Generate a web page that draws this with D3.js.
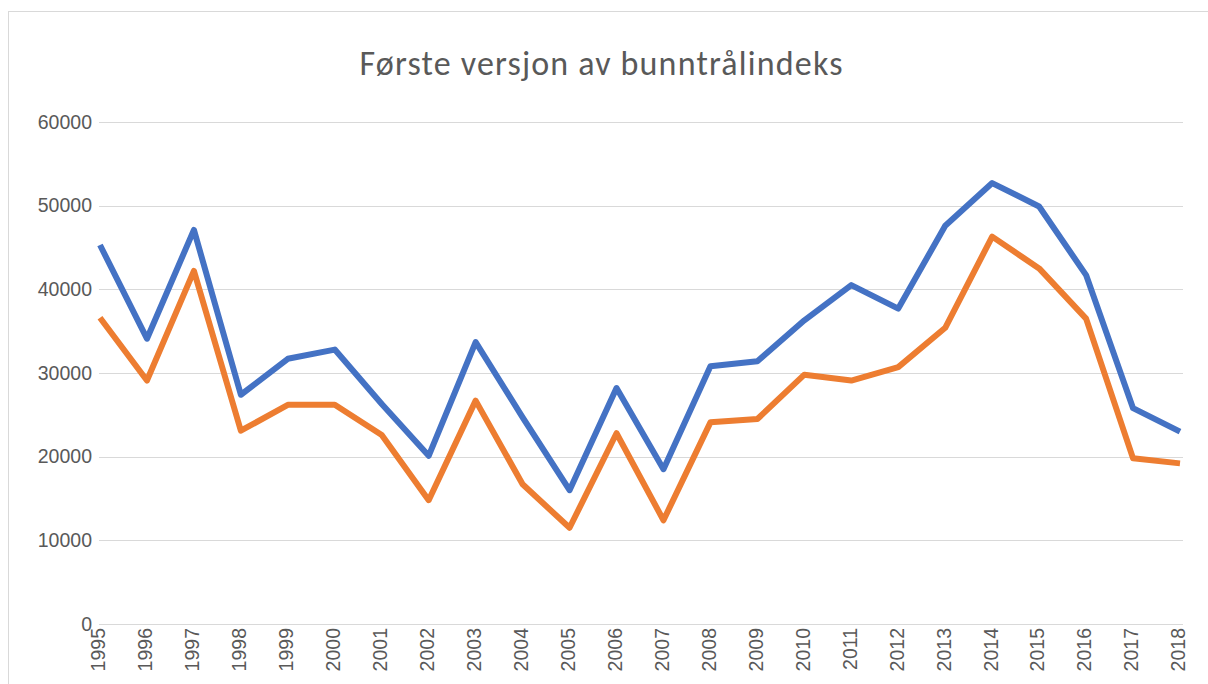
<!DOCTYPE html>
<html>
<head>
<meta charset="utf-8">
<script src="https://cdn.jsdelivr.net/npm/d3@7"></script>
<style>
  body { margin: 0; background: #fff; }
</style>
</head>
<body>
<div id="root"></div>
<script>
const years = ['1995','1996','1997','1998','1999','2000','2001','2002','2003','2004','2005','2006',
               '2007','2008','2009','2010','2011','2012','2013','2014','2015','2016','2017','2018'];
const seriesBlue = [45300, 34100, 47100, 27400, 31700, 32800, 26300, 20100, 33700, 24700, 16000, 28200,
                    18500, 30800, 31400, 36300, 40500, 37700, 47600, 52700, 49900, 41700, 25800, 23000];
const seriesOrange = [36600, 29100, 42200, 23100, 26200, 26200, 22600, 14800, 26700, 16700, 11500, 22800,
                      12400, 24100, 24500, 29800, 29100, 30700, 35400, 46300, 42500, 36500, 19800, 19200];
const yTicks = [0, 10000, 20000, 30000, 40000, 50000, 60000];

const w = 1208;
const h = 684;

const svg = d3.select('#root')
  .append('svg')
  .attr('width', w)
  .attr('height', h);

// chart frame
svg.append('rect')
  .attr('x', 8.5)
  .attr('y', 11.5)
  .attr('width', w - 4)
  .attr('height', h)
  .attr('fill', '#fff')
  .attr('stroke', '#d9d9d9');

svg.append('text')
  .text('Første versjon av bunntrålindeks')
  .attr('x', 601)
  .attr('y', 75)
  .attr('text-anchor', 'middle')
  .attr('font-family', 'Carlito, Lato, sans-serif')
  .attr('font-size', '34px')
  .attr('textLength', 483)
  .attr('lengthAdjust', 'spacing')
  .attr('fill', '#595959');

const x = d3.scalePoint()
  .domain(years)
  .range([100, 1180]);

const y = d3.scaleLinear()
  .domain([0, 60000])
  .range([624, 122]);

// gridlines
svg.append('g')
  .selectAll('line')
  .data(yTicks)
  .enter()
  .append('line')
  .attr('x1', 99)
  .attr('x2', 1183)
  .attr('y1', d => Math.round(y(d)) + 0.5)
  .attr('y2', d => Math.round(y(d)) + 0.5)
  .attr('stroke', '#d9d9d9')
  .attr('stroke-width', 1);

const yAxis = svg.append('g')
  .attr('transform', 'translate(100,0)')
  .call(d3.axisLeft(y).tickValues(yTicks).tickSize(0).tickPadding(8).tickFormat(d3.format('d')));
yAxis.select('.domain').remove();
yAxis.selectAll('text')
  .attr('font-family', 'Liberation Sans, Arial, sans-serif')
  .attr('font-size', '19.5px')
  .attr('fill', '#595959');

const xAxis = svg.append('g')
  .attr('transform', 'translate(0,624)')
  .call(d3.axisBottom(x).tickSize(0).tickPadding(0));
xAxis.select('.domain').remove();
xAxis.selectAll('text')
  .attr('font-family', 'Liberation Sans, Arial, sans-serif')
  .attr('font-size', '19.5px')
  .attr('fill', '#595959')
  .attr('text-anchor', 'end')
  .attr('transform', 'rotate(-90)')
  .attr('x', -4)
  .attr('y', -2)
  .attr('dy', '0.35em');

const line = d3.line()
  .x((d, i) => x(years[i]))
  .y(d => y(d));

svg.append('path')
  .datum(seriesBlue)
  .attr('d', line)
  .attr('fill', 'none')
  .attr('stroke', '#4472C4')
  .attr('stroke-width', 6)
  .attr('stroke-linejoin', 'round');

svg.append('path')
  .datum(seriesOrange)
  .attr('d', line)
  .attr('fill', 'none')
  .attr('stroke', '#ED7D31')
  .attr('stroke-width', 6)
  .attr('stroke-linejoin', 'round');
</script>
</body>
</html>
